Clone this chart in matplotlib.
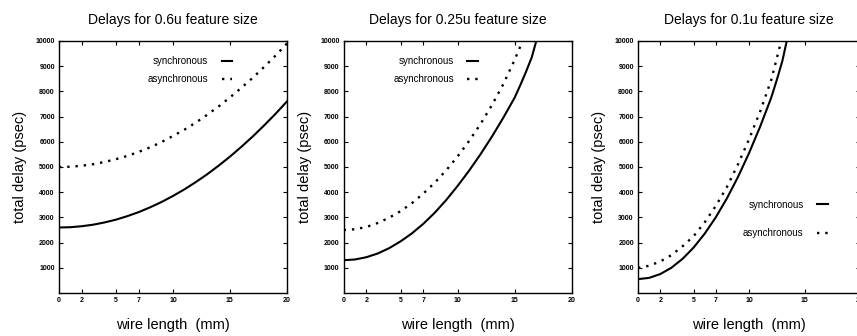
import matplotlib
matplotlib.use("Agg")
import matplotlib.pyplot as plt

plt.rcParams["font.family"] = ["Liberation Sans", "DejaVu Sans"]

# wire length (mm) -> total delay (psec)
sizes = ["0.6u", "0.25u", "0.1u"]

x_06 = [0, 1, 2, 3, 4, 5, 6, 7, 8, 9, 10, 11, 12, 13, 14, 15, 16, 17, 18, 19, 20]
sync_06 = [2600, 2610, 2650, 2710, 2800, 2910, 3050, 3210, 3400, 3610, 3850,
           4110, 4400, 4710, 5050, 5410, 5800, 6210, 6650, 7110, 7600]
async_06 = [5000, 5010, 5050, 5110, 5200, 5310, 5440, 5600, 5780, 5990, 6230,
            6480, 6760, 7070, 7400, 7760, 8140, 8540, 8970, 9420, 9900]

x_025_s = [0, 1, 2, 3, 4, 5, 6, 7, 8, 9, 10, 11, 12, 13, 14, 15, 15.5, 16, 16.5, 16.9]
sync_025 = [1300, 1330, 1420, 1570, 1780, 2050, 2370, 2750, 3190, 3690, 4250,
            4850, 5500, 6200, 6950, 7750, 8250, 8780, 9350, 10000]
x_025_a = [0, 1, 2, 3, 4, 5, 6, 7, 8, 9, 10, 11, 12, 13, 14, 15, 15.7]
async_025 = [2500, 2530, 2620, 2780, 2990, 3250, 3570, 3950, 4380, 4870, 5420,
             6030, 6700, 7450, 8280, 9250, 10000]

x_01_s = [0, 1, 2, 3, 4, 5, 6, 7, 8, 9, 10, 11, 12, 12.5, 13, 13.4]
sync_01 = [550, 600, 750, 1000, 1350, 1800, 2350, 3000, 3750, 4600, 5550,
           6600, 7750, 8450, 9200, 10000]
x_01_a = [0, 1, 2, 3, 4, 5, 6, 7, 8, 9, 10, 11, 12, 12.9]
async_01 = [1000, 1080, 1250, 1500, 1850, 2250, 2800, 3450, 4200, 5100, 6100,
            7200, 8450, 10000]

xticks = [0, 2, 5, 7, 10, 15, 20]
yticks = [1000, 2000, 3000, 4000, 5000, 6000, 7000, 8000, 9000, 10000]

panels = [
    (x_06, sync_06, x_06, async_06, [0.0688, 0.128, 0.266, 0.75], (0.76, 0.94), 0.85),
    (x_025_s, sync_025, x_025_a, async_025, [0.401, 0.128, 0.266, 0.75], (0.59, 0.94), 0.85),
    (x_01_s, sync_01, x_01_a, async_01, [0.7445, 0.128, 0.259, 0.75], (0.856, 0.37), 1.9),
]

fig = plt.figure(figsize=(8.57, 3.36), dpi=100)

for size, (xs, s, xa, a, pos, anchor, spacing) in zip(sizes, panels):
    ax = fig.add_axes(pos)
    ax.plot(xs, s, color="black", lw=1.5, label="synchronous")
    ax.plot(xa, a, color="black", lw=1.7, linestyle=(0, (1, 2.5)), label="asynchronous")
    ax.set_xlim(0, 20)
    ax.set_ylim(0, 10000)
    ax.set_xticks(xticks)
    ax.set_yticks(yticks)
    ax.tick_params(direction="in", top=True, right=True, labelsize=5, length=3, width=0.8, pad=3)
    for lbl in ax.get_xticklabels() + ax.get_yticklabels():
        lbl.set_fontweight("bold")
    for sp in ax.spines.values():
        sp.set_linewidth(1.0)
    ax.set_title(f"Delays for {size} feature size", fontsize=10, pad=12)
    ax.set_xlabel("wire length  (mm)", fontsize=10.5, labelpad=10)
    ax.set_ylabel("total delay (psec)", fontsize=10.5, labelpad=6)
    ax.legend(loc="upper right", bbox_to_anchor=anchor, markerfirst=False, frameon=False,
              handlelength=1.1, fontsize=7, labelspacing=spacing, handletextpad=1.4,
              borderpad=0, borderaxespad=0)

fig.savefig("out.png", dpi=100)
plt.close(fig)
